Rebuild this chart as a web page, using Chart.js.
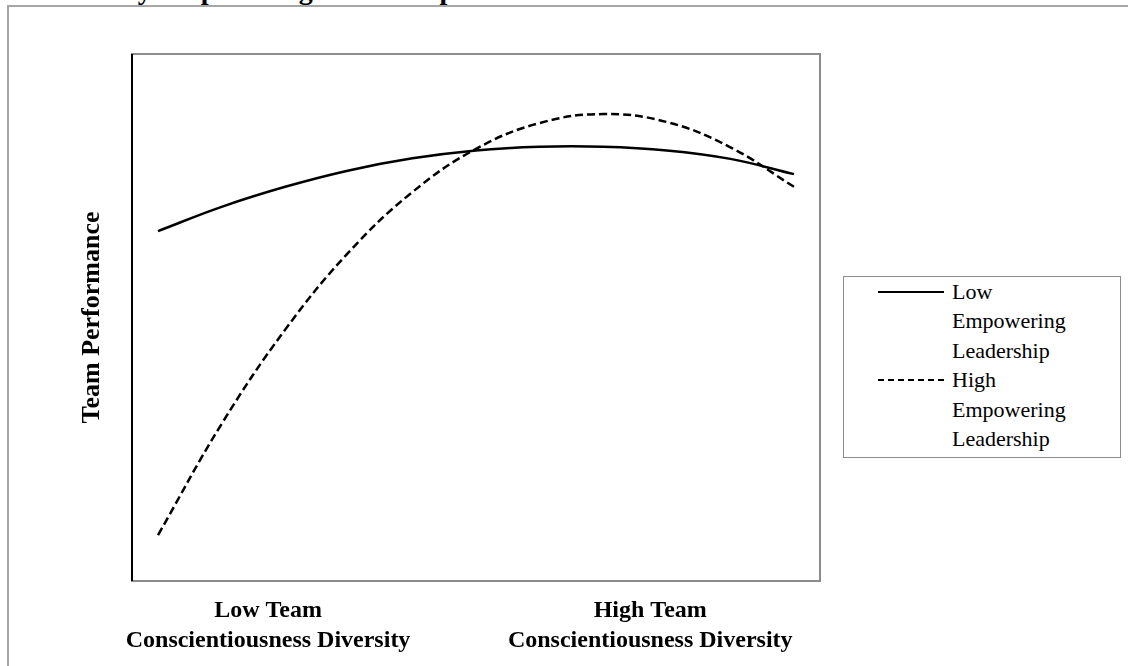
<!DOCTYPE html>
<html lang="en">
<head>
    <meta charset="UTF-8">
    <title>Team Performance</title>
    <script src="https://cdn.jsdelivr.net/npm/chart.js"></script>
    <style>
        body { margin: 0; background: #fff; overflow: hidden; }
        #wrap { position: relative; width: 1128px; height: 666px; overflow: hidden; }
        #frame {
            position: absolute; left: 7px; top: 5px; width: 1200px; height: 800px;
            border-left: 2px solid #a6a6a6; border-top: 2px solid #a6a6a6;
        }
        #cutTitle {
            position: absolute; left: -17px; top: -24px; white-space: nowrap;
            font: bold 28px "Liberation Serif", "Times New Roman", serif; line-height: 28px;
        }
        #legend {
            position: absolute; left: 843px; top: 276px; width: 276px; height: 180px;
            border: 1px solid #8c8c8c; background: #fff;
            font: 22px "Liberation Serif", "Times New Roman", serif; line-height: 29.4px;
        }
        .item { position: relative; padding-left: 108px; }
        .swatch { position: absolute; left: 34px; top: 14px; width: 66px; border-top: 2.5px solid #000; }
        canvas { position: absolute; left: 0; top: 0; }
    </style>
</head>
<body>
<div id="wrap">
    <div id="cutTitle">Moderated by Empowering Leadership</div>
    <div id="frame"></div>
    <canvas id="chart" width="1128" height="666"></canvas>
    <div id="legend"></div>
</div>

<script>
    // x positions along the diversity axis (arbitrary units, 0 = low end, 10 = high end)
    const xPos = [0, 1, 2, 3, 4, 5, 6, 7, 8, 9, 10];
    // team performance
    const lowEmpowering = [6.64, 7.10, 7.48, 7.79, 8.02, 8.17, 8.24, 8.24, 8.17, 8.01, 7.72];
    const highEmpowering = [0.87, 2.98, 4.77, 6.24, 7.38, 8.20, 8.69, 8.86, 8.71, 8.23, 7.48];

    const seriesNames = [["Low", "Empowering", "Leadership"], ["High", "Empowering", "Leadership"]];
    const tickPos = [1.73, 7.74];
    const tickLabels = [["Low Team", "Conscientiousness Diversity"], ["High Team", "Conscientiousness Diversity"]];
    const yTitle = "Team Performance";

    const serif = "'Liberation Serif', 'Times New Roman', serif";

    // gray box round the plot, black line on the left
    const plotBox = {
        id: "plotBox",
        afterDraw(chart) {
            const a = chart.chartArea;
            const ctx = chart.ctx;
            ctx.save();
            ctx.strokeStyle = "#8c8c8c";
            ctx.lineWidth = 2;
            ctx.strokeRect(a.left, a.top, a.right - a.left, a.bottom - a.top);
            ctx.strokeStyle = "#000";
            ctx.beginPath();
            ctx.moveTo(a.left, a.top);
            ctx.lineTo(a.left, a.bottom);
            ctx.stroke();
            ctx.restore();
        }
    };

    const ctx = document.getElementById("chart").getContext("2d");
    new Chart(ctx, {
        type: "line",
        data: {
            datasets: [{
                label: seriesNames[0].join(" "),
                data: xPos.map((x, i) => ({ x: x, y: lowEmpowering[i] })),
                borderColor: "#000",
                borderWidth: 2.5,
                pointRadius: 0,
                tension: 0.4,
                fill: false
            }, {
                label: seriesNames[1].join(" "),
                data: xPos.map((x, i) => ({ x: x, y: highEmpowering[i] })),
                borderColor: "#000",
                borderWidth: 2.5,
                borderDash: [8, 4],
                pointRadius: 0,
                tension: 0.4,
                fill: false
            }]
        },
        options: {
            responsive: false,
            animation: false,
            layout: { padding: { left: 0, top: 54, right: 308, bottom: 0 } },
            plugins: {
                legend: { display: false },
                tooltip: { enabled: false }
            },
            scales: {
                x: {
                    type: "linear",
                    min: -0.409,
                    max: 10.409,
                    afterBuildTicks: axis => { axis.ticks = tickPos.map(v => ({ value: v })); },
                    afterFit: scale => { scale.height = 85; },
                    ticks: {
                        autoSkip: false,
                        maxRotation: 0,
                        padding: 15,
                        color: "#000",
                        font: { family: serif, size: 24, weight: "bold", lineHeight: 1.25 },
                        callback: (v, i) => tickLabels[i]
                    },
                    grid: { display: false, drawTicks: false },
                    border: { display: false }
                },
                y: {
                    min: 0,
                    max: 10,
                    afterFit: scale => { scale.width = 132; },
                    ticks: { display: false },
                    grid: { display: false, drawTicks: false },
                    border: { display: false },
                    title: {
                        display: true,
                        text: yTitle,
                        color: "#000",
                        font: { family: serif, size: 26, weight: "bold" },
                        padding: { top: 77, bottom: 0 }
                    }
                }
            }
        },
        plugins: [plotBox]
    });

    // legend box built from the series names
    const legend = document.getElementById("legend");
    seriesNames.forEach((lines, i) => {
        const item = document.createElement("div");
        item.className = "item";
        const sw = document.createElement("div");
        sw.className = "swatch";
        if (i === 1) sw.style.borderTopStyle = "dashed";
        item.appendChild(sw);
        lines.forEach(t => {
            const d = document.createElement("div");
            d.textContent = t;
            item.appendChild(d);
        });
        legend.appendChild(item);
    });
</script>
</body>
</html>
